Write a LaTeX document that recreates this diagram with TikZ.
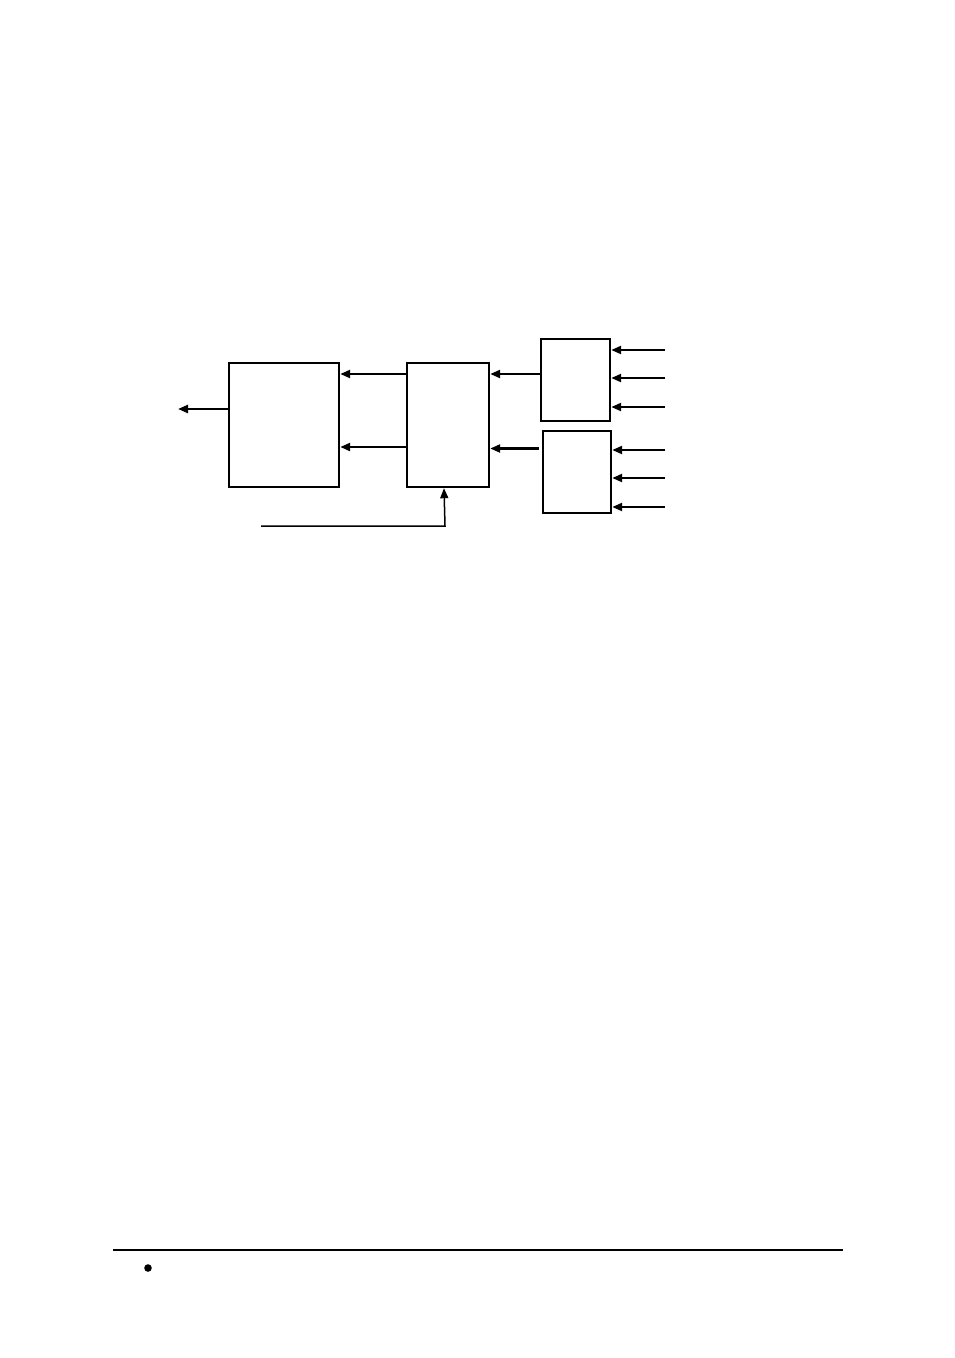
\documentclass[tikz,border=0pt]{standalone}
\usetikzlibrary{arrows.meta}
\begin{document}
\begin{tikzpicture}[x=1pt,y=-1pt,
  blk/.style={draw,line width=2.4pt,inner sep=0pt},
  sig/.style={line width=2.3pt,-{Triangle[length=10pt,width=8pt]}},
  thin sig/.style={line width=1.5pt,-{Triangle[length=10pt,width=8pt]}}]
\useasboundingbox (0,0) rectangle (954,1358);
% boxes
\node[blk,minimum width=110pt,minimum height=124pt] (A) at (284,425) {};
\node[blk,minimum width=82pt,minimum height=124pt] (B) at (448,425) {};
\node[blk,minimum width=69pt,minimum height=82pt] (C) at (575.5,380) {};
\node[blk,minimum width=68pt,minimum height=82pt] (D) at (577,472) {};
% output
\coordinate (out) at (178,409);
\draw[sig] (A.west |- out) -- (out);
% B to A
\draw[sig] (B.west |- 0,374) -- (A.east |- 0,374);
\draw[sig] (B.west |- 0,447) -- (A.east |- 0,447);
% C, D to B
\draw[sig] (C.west |- 0,374) -- (B.east |- 0,374);
\draw[sig] ([xshift=-3pt]D.west |- 0,448.5) -- (B.east |- 0,448.5);
% inputs
\foreach \y [count=\i] in {350,378,407} {
  \coordinate (ci\i) at (665,\y);
  \draw[sig] (ci\i) -- (C.east |- ci\i);
}
\foreach \y [count=\i] in {450,478,507} {
  \coordinate (di\i) at (665,\y);
  \draw[sig] (di\i) -- (D.east |- di\i);
}
% feedback
\coordinate (fb0) at (261,526);
\coordinate (fb1) at (445,526);
\draw[thin sig] (fb0) -- (fb1) -- ([xshift=-1pt]fb1 |- B.south);
% footer
\coordinate (r0) at (113,1250);
\coordinate (r1) at (843,1250);
\draw[line width=2.2pt] (r0) -- (r1);
\fill (148,1268) circle (3.8pt);
\end{tikzpicture}
\end{document}
